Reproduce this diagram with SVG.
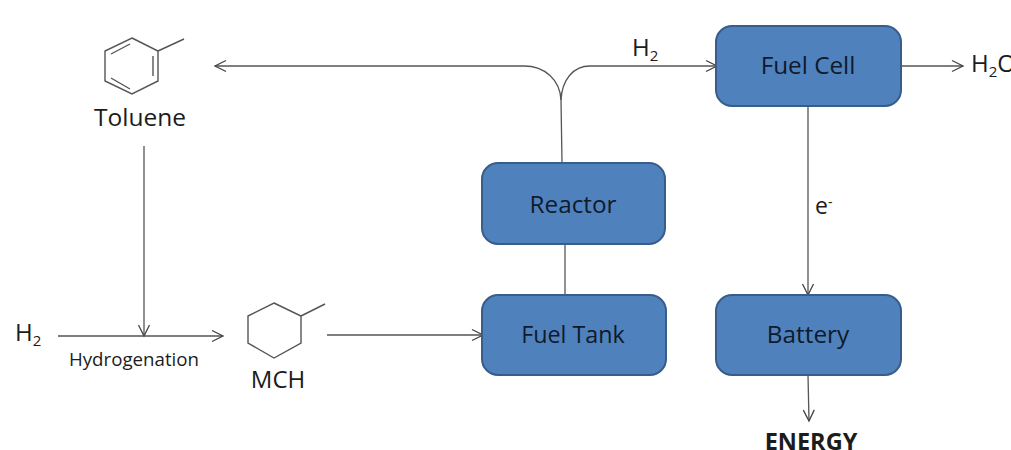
<svg xmlns="http://www.w3.org/2000/svg" width="1011" height="450" viewBox="0 0 1011 450">
<style>
text{font-family:"Open Sans","Noto Sans","Liberation Sans",sans-serif;fill:#1c1c1c}
.box{fill:#4f81bd;stroke:#385d8a;stroke-width:2}
.lbl{font-size:24.300px;text-anchor:middle;fill:#0f1a2b}
.lbl-n{font-size:23.300px;text-anchor:middle;fill:#0f1a2b}
.c{fill:none;stroke:#555;stroke-width:1.3}
.m{fill:none;stroke:#555;stroke-width:1.4}
.sub{font-size:15px}
</style>
<defs>
<marker id="a" markerUnits="userSpaceOnUse" markerWidth="14" markerHeight="14" refX="12" refY="7" orient="auto"><path d="M1 1.500L12 7L1 12.500" fill="none" stroke="#444" stroke-width="1.3"/></marker>
</defs>
<rect width="1011" height="450" fill="#fff"/>
<g id="connectors">
<path class="c" d="M144 146L144 336" marker-end="url(#a)"/>
<path class="c" d="M58 336L223 336" marker-end="url(#a)"/>
<path class="c" d="M327 335L483 335" marker-end="url(#a)"/>
<path class="c" d="M562 163L561 100C560 80 545 66 524 66L215 66" marker-end="url(#a)"/>
<path class="c" d="M561 100C562 80 573 66 590 66L717 66" marker-end="url(#a)"/>
<path class="c" d="M565 244L565 295"/>
<path class="c" d="M901 66L963 66" marker-end="url(#a)"/>
<path class="c" d="M808 106L808 295" marker-end="url(#a)"/>
<path class="c" d="M808 375L809 421" marker-end="url(#a)"/>
</g>
<g id="toluene">
<path class="m" d="M132 38L158 51L158 81L132 94L105 81L105 51ZM158 51L184 39M111 54L130 44M153 56L153 76M111 78L130 89"/>
<text x="140" y="126" font-size="24.500" text-anchor="middle">Toluene</text>
</g>
<g id="mch">
<path class="m" d="M274 303L301 316L301 343L274 358L248 343L248 316ZM301 316L325 304"/>
<text x="278" y="388" font-size="24" text-anchor="middle">MCH</text>
</g>
<g id="h2-in"><text x="15" y="341" font-size="24">H<tspan class="sub" dy="5">2</tspan></text></g>
<g id="hydrogenation"><text x="134" y="366" font-size="18.700" text-anchor="middle">Hydrogenation</text></g>
<g id="h2-top"><text x="632" y="56" font-size="24">H<tspan class="sub" dy="5">2</tspan></text></g>
<g id="h2o"><text x="971" y="72" font-size="24">H<tspan class="sub" dy="5">2</tspan><tspan dy="-5">O</tspan></text></g>
<g id="electron"><text x="815" y="214" font-size="23">e<tspan font-size="14" dy="-7">-</tspan></text></g>
<g id="energy"><text x="811" y="450" font-size="23.500" font-weight="700" text-anchor="middle">ENERGY</text></g>
<g id="fuel-cell"><rect class="box" x="716" y="26" width="185" height="80" rx="16"/><text class="lbl" x="808" y="74">Fuel Cell</text></g>
<g id="reactor"><rect class="box" x="482" y="163" width="183" height="81" rx="16"/><text class="lbl" x="573" y="213">Reactor</text></g>
<g id="fuel-tank"><rect class="box" x="482" y="295" width="184" height="80" rx="16"/><text class="lbl-n" x="573" y="343">Fuel Tank</text></g>
<g id="battery"><rect class="box" x="716" y="295" width="185" height="80" rx="16"/><text class="lbl" x="808" y="343">Battery</text></g>
</svg>
